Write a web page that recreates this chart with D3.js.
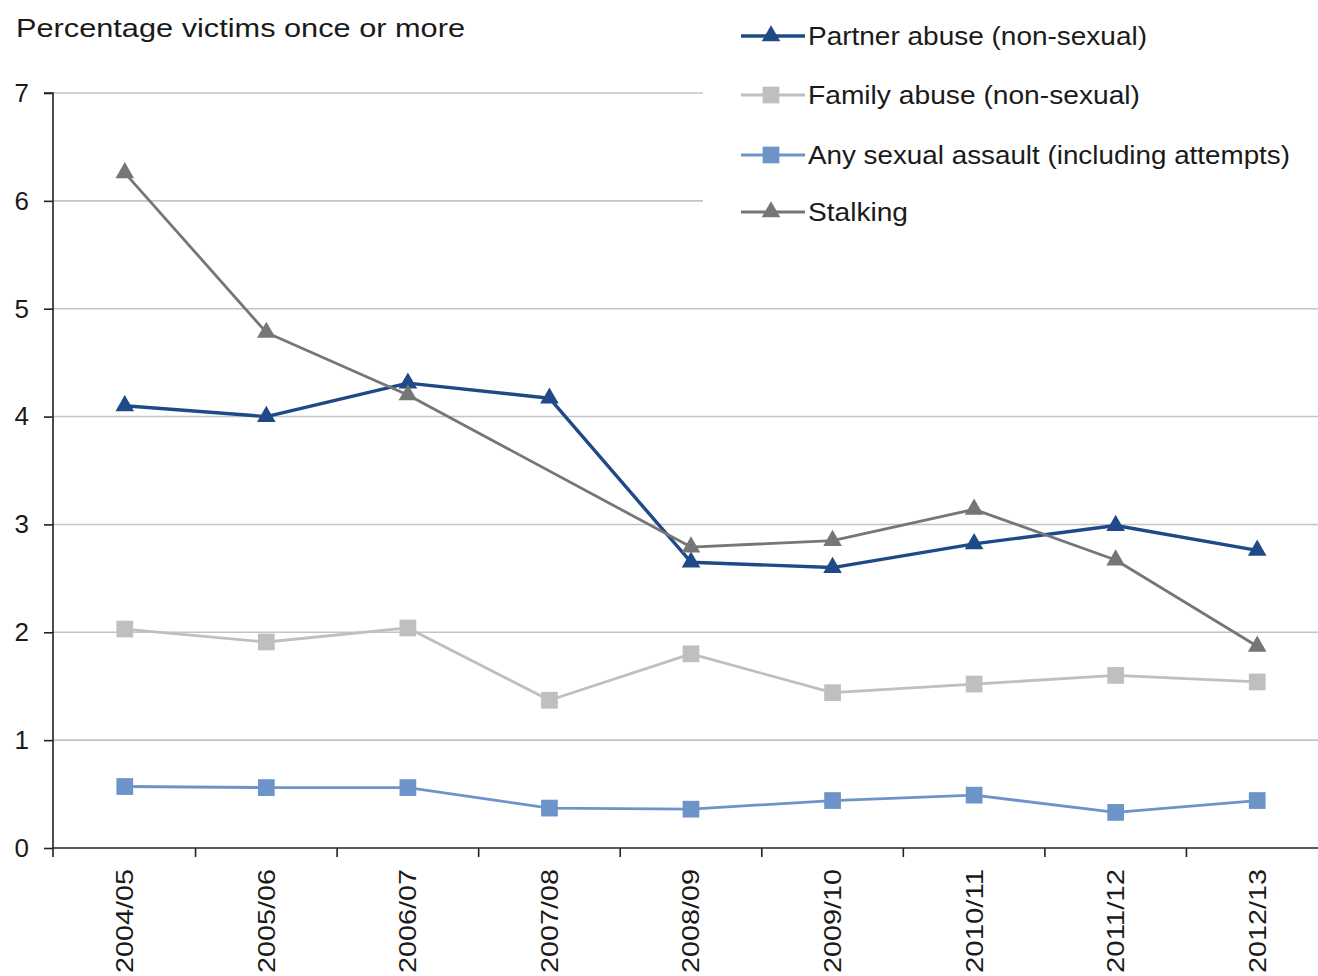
<!DOCTYPE html>
<html lang="en">
<head>
<meta charset="UTF-8">
<title>Percentage victims once or more</title>
<script src="https://d3js.org/d3.v7.min.js"></script>
<style>
    body { margin: 0; background: #fff; }
    svg { display: block; }
    text { font-family: "Liberation Sans", Arial, sans-serif; fill: #1a1a1a; }
</style>
</head>
<body>
<svg id="chart" width="1318" height="976"></svg>
<script>
// data
var years = ["2004/05", "2005/06", "2006/07", "2007/08", "2008/09", "2009/10", "2010/11", "2011/12", "2012/13"];
var partnerAbuse = [4.10, 4.00, 4.31, 4.17, 2.65, 2.60, 2.82, 2.99, 2.76];
var familyAbuse = [2.03, 1.91, 2.04, 1.37, 1.80, 1.44, 1.52, 1.60, 1.54];
var sexualAssault = [0.57, 0.56, 0.56, 0.37, 0.36, 0.44, 0.49, 0.33, 0.44];
var stalking = [6.26, 4.78, 4.20, null, 2.79, 2.85, 3.14, 2.67, 1.87];
var yTicks = [0, 1, 2, 3, 4, 5, 6, 7];

var series = [
    { name: "Partner abuse (non-sexual)", values: partnerAbuse, color: "#1f4a87", shape: "triangle", width: 3.4, labelW: 339 },
    { name: "Family abuse (non-sexual)", values: familyAbuse, color: "#bfbfbf", shape: "square", width: 2.8, labelW: 332 },
    { name: "Any sexual assault (including attempts)", values: sexualAssault, color: "#6d94c8", shape: "square", width: 2.8, labelW: 482 },
    { name: "Stalking", values: stalking, color: "#767676", shape: "triangle", width: 2.8, labelW: 100 }
];

var svg = d3.select("#chart"),
    W = 1318,
    plotLeft = 53, plotBottom = 848, plotTop = 93;

var x = d3.scaleBand().domain(years).range([54, 1328]).paddingInner(0).paddingOuter(0),
    y = d3.scaleLinear().domain([0, 7]).range([plotBottom, plotTop]);

function marker(shape) {
    return shape === "triangle"
        ? d3.symbol().type(d3.symbolTriangle).size(150)
        : d3.symbol().type(d3.symbolSquare).size(280);
}

// gridlines
svg.append("g").selectAll("line")
    .data(yTicks.filter(d => d > 0))
    .enter().append("line")
    .attr("x1", plotLeft).attr("x2", W)
    .attr("y1", d => y(d)).attr("y2", d => y(d))
    .attr("stroke", "#c4c4c4").attr("stroke-width", 1.6);

// y axis
var yAxis = svg.append("g")
    .attr("transform", "translate(" + plotLeft + ",0)")
    .call(d3.axisLeft(y).tickValues(yTicks).tickSize(9).tickPadding(15).tickFormat(d3.format("d")));
yAxis.select(".domain").attr("stroke", "#222").attr("stroke-width", 1.6)
    .attr("d", "M-9," + y(7) + "H0V" + (plotBottom + 9));
yAxis.selectAll(".tick line").attr("stroke", "#222").attr("stroke-width", 1.6);
yAxis.selectAll(".tick text").attr("font-size", 26).attr("font-family", "Liberation Sans, Arial, sans-serif").attr("fill", "#1a1a1a");

// x axis: line, boundary ticks, rotated labels
var xg = svg.append("g").attr("transform", "translate(0," + plotBottom + ")");
xg.append("line").attr("x1", plotLeft).attr("x2", W).attr("stroke", "#222").attr("stroke-width", 1.6);
xg.selectAll(".bt")
    .data(years.slice(1))
    .enter().append("line")
    .attr("x1", d => x(d)).attr("x2", d => x(d))
    .attr("y1", 0).attr("y2", 9)
    .attr("stroke", "#222").attr("stroke-width", 1.6);
xg.selectAll(".lbl")
    .data(years)
    .enter().append("text")
    .attr("transform", d => "translate(" + (x(d) + x.bandwidth() / 2) + ",21) rotate(-90)")
    .attr("dy", "0.35em")
    .attr("text-anchor", "end")
    .attr("font-size", 24)
    .attr("textLength", 104)
    .attr("lengthAdjust", "spacingAndGlyphs")
    .text(d => d);

// lines and markers
var line = d3.line()
    .x(d => x(d.year) + x.bandwidth() / 2)
    .y(d => y(d.v));

series.forEach(s => {
    var pts = years.map((yr, i) => ({ year: yr, v: s.values[i] })).filter(d => d.v != null);
    svg.append("path")
        .datum(pts)
        .attr("fill", "none")
        .attr("stroke", s.color)
        .attr("stroke-width", s.width)
        .attr("stroke-linejoin", "round")
        .attr("d", line);
    svg.append("g").selectAll("path")
        .data(pts)
        .enter().append("path")
        .attr("d", marker(s.shape))
        .attr("transform", d => "translate(" + (x(d.year) + x.bandwidth() / 2) + "," + y(d.v) + ")")
        .attr("fill", s.color);
});

// title
svg.append("text")
    .attr("x", 16).attr("y", 37)
    .attr("font-size", 25)
    .attr("textLength", 449)
    .attr("lengthAdjust", "spacingAndGlyphs")
    .text("Percentage victims once or more");

// legend box
var legend = svg.append("g");
legend.append("rect")
    .attr("x", 703).attr("y", 0).attr("width", W - 703).attr("height", 252)
    .attr("fill", "#fff");
var legendY = [36, 95, 155, 212];
series.forEach((s, i) => {
    var g = legend.append("g").attr("transform", "translate(0," + legendY[i] + ")");
    g.append("line").attr("x1", 741).attr("x2", 805)
        .attr("stroke", s.color).attr("stroke-width", s.width);
    g.append("path").attr("d", marker(s.shape)).attr("transform", "translate(771,0)").attr("fill", s.color);
    g.append("text")
        .attr("x", 808).attr("dy", "0.35em")
        .attr("font-size", 25)
        .attr("textLength", s.labelW)
        .attr("lengthAdjust", "spacingAndGlyphs")
        .text(s.name);
});
</script>
</body>
</html>
